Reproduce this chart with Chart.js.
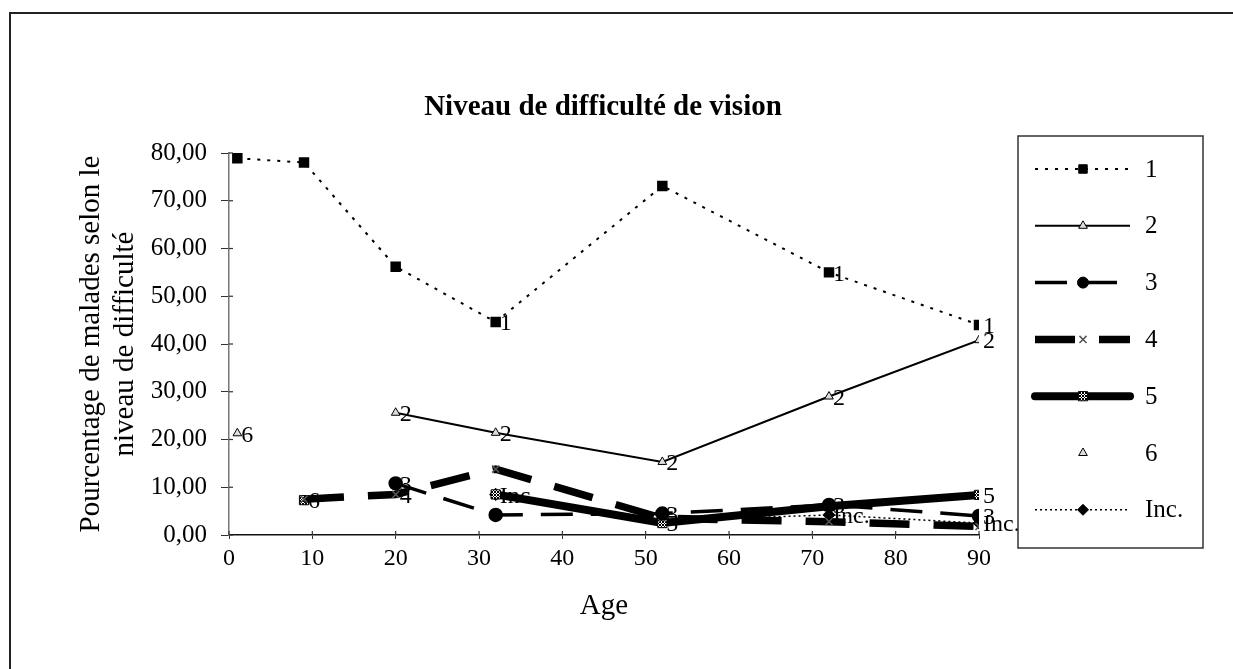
<!DOCTYPE html>
<html>
<head>
<meta charset="utf-8">
<script src="https://cdn.jsdelivr.net/npm/chart.js"></script>
<style>
  html, body { margin: 0; padding: 0; background: #fff; }
  #wrap { width: 1233px; height: 669px; }
</style>
</head>
<body>
<div id="wrap"><canvas id="chart" width="1233" height="669"></canvas></div>
<script>
// data
const ages = [1, 9, 20, 32, 52, 72, 90];
const seriesNames = ['1', '2', '3', '4', '5', '6', 'Inc.'];
const level1 = [78.9, 78.0, 56.2, 44.6, 73.1, 55.0, 44.0];
const level2 = [null, null, 25.6, 21.4, 15.3, 29.0, 40.8];
const level3 = [null, null, 10.8, 4.2, 4.5, 6.3, 4.0];
const level4 = [null, 7.5, 8.5, 13.8, 3.5, 2.8, 1.8];
const level5 = [null, 7.3, null, 8.5, 2.5, 6.0, 8.4];
const level6 = [21.3, 7.3, null, null, null, null, null];
const levelInc = [null, null, null, 8.5, 3.0, 4.2, 2.5];

// which points carry their series name as a label
const labels1 = [0, 0, 0, 1, 0, 1, 1];
const labels2 = [0, 0, 1, 1, 1, 1, 1];
const labels3 = [0, 0, 1, 0, 1, 1, 1];
const labels4 = [0, 0, 1, 0, 0, 0, 0];
const labels5 = [0, 0, 0, 0, 1, 0, 1];
const labels6 = [1, 1, 0, 0, 0, 0, 0];
const labelsInc = [0, 0, 0, 1, 0, 1, 1];

const FONT = '"Liberation Serif", "Times New Roman", serif';

// small cross-hatched fill for series 5 markers
const hatch = (() => {
    const c = document.createElement('canvas');
    c.width = 3; c.height = 3;
    const g = c.getContext('2d');
    g.fillStyle = '#fff'; g.fillRect(0, 0, 3, 3);
    g.fillStyle = '#000';
    g.fillRect(0, 0, 1, 1); g.fillRect(2, 0, 1, 1); g.fillRect(1, 1, 1, 1);
    g.fillRect(0, 2, 1, 1); g.fillRect(2, 2, 1, 1);
    return g.createPattern(c, 'repeat');
})();

const toPoints = (vals) => ages.map((a, i) => ({ x: a, y: vals[i] }));

const datasets = [
    { label: seriesNames[0], data: toPoints(level1), flags: labels1,
      borderColor: '#000', borderWidth: 2, borderDash: [3, 7], showLine: true,
      pointStyle: 'rect', pointRadius: 6, backgroundColor: '#000', pointBorderColor: '#000' },
    { label: seriesNames[1], data: toPoints(level2), flags: labels2,
      borderColor: '#000', borderWidth: 2, showLine: true,
      pointStyle: 'triangle', pointRadius: 5, backgroundColor: '#ddd', pointBorderColor: '#000', pointBorderWidth: 1 },
    { label: seriesNames[2], data: toPoints(level3), flags: labels3,
      borderColor: '#000', borderWidth: 3.5, borderDash: [32, 18], showLine: true,
      pointStyle: 'circle', pointRadius: 5.5, backgroundColor: '#000', pointBorderColor: '#000' },
    { label: seriesNames[3], data: toPoints(level4), flags: labels4,
      borderColor: '#000', borderWidth: 7.5, borderDash: [40, 24], showLine: true,
      pointStyle: 'crossRot', pointRadius: 5, backgroundColor: '#666', pointBorderColor: '#555', pointBorderWidth: 1.5 },
    { label: seriesNames[4], data: toPoints(level5), flags: labels5,
      borderColor: '#000', borderWidth: 8, borderCapStyle: 'round', showLine: true,
      pointStyle: 'rect', pointRadius: 6.5, backgroundColor: hatch, pointBorderColor: '#000', pointBorderWidth: 1 },
    { label: seriesNames[5], data: toPoints(level6), flags: labels6,
      showLine: false, borderColor: '#000',
      pointStyle: 'triangle', pointRadius: 5, backgroundColor: '#ddd', pointBorderColor: '#000', pointBorderWidth: 1 },
    { label: seriesNames[6], data: toPoints(levelInc), flags: labelsInc,
      borderColor: '#000', borderWidth: 1.5, borderDash: [2, 3], showLine: true,
      pointStyle: 'rectRot', pointRadius: 5.5, backgroundColor: '#000', pointBorderColor: '#000' },
];
datasets.forEach(d => { d.spanGaps = false; d.pointHoverRadius = d.pointRadius; });

// frame around the whole chart + title
const framePlugin = {
    id: 'frame',
    beforeDraw(chart) {
        const ctx = chart.ctx;
        ctx.save();
        ctx.fillStyle = '#fff';
        ctx.fillRect(0, 0, chart.width, chart.height);
        ctx.strokeStyle = '#222';
        ctx.lineWidth = 2;
        ctx.strokeRect(10, 13, chart.width + 20, chart.height + 20);
        ctx.fillStyle = '#000';
        ctx.font = 'bold 29px ' + FONT;
        ctx.textAlign = 'center';
        ctx.textBaseline = 'middle';
        ctx.fillText('Niveau de difficulté de vision', 603, 108);
        ctx.restore();
    }
};

// Excel style cross tick marks on the inside of the axes
const crossTicks = {
    id: 'crossTicks',
    afterDraw(chart) {
        const ctx = chart.ctx;
        const { x, y } = chart.scales;
        ctx.save();
        ctx.strokeStyle = '#333';
        ctx.lineWidth = 1.2;
        y.ticks.forEach(t => {
            const py = y.getPixelForValue(t.value);
            ctx.beginPath(); ctx.moveTo(x.left, py); ctx.lineTo(x.left + 4, py); ctx.stroke();
        });
        x.ticks.forEach(t => {
            const px = x.getPixelForValue(t.value);
            ctx.beginPath(); ctx.moveTo(px, y.bottom); ctx.lineTo(px, y.bottom - 4); ctx.stroke();
        });
        ctx.restore();
    }
};

// series name printed right of the chosen points
const pointLabels = {
    id: 'pointLabels',
    afterDatasetsDraw(chart) {
        const ctx = chart.ctx;
        ctx.save();
        ctx.fillStyle = '#000';
        ctx.font = '24px ' + FONT;
        ctx.textAlign = 'left';
        ctx.textBaseline = 'middle';
        chart.data.datasets.forEach((ds, i) => {
            const meta = chart.getDatasetMeta(i);
            meta.data.forEach((el, j) => {
                if (!ds.flags[j] || ds.data[j].y == null) return;
                ctx.fillText(ds.label, el.x + 4, el.y + 2);
            });
        });
        ctx.restore();
    }
};

// legend box on the right, line sample + marker like the original
const boxLegend = {
    id: 'boxLegend',
    afterDraw(chart) {
        const ctx = chart.ctx;
        ctx.save();
        ctx.strokeStyle = '#333';
        ctx.lineWidth = 1.5;
        ctx.strokeRect(1018, 136, 185, 412);
        chart.data.datasets.forEach((ds, i) => {
            const yy = 169 + i * 56.8;
            if (ds.showLine) {
                ctx.save();
                ctx.strokeStyle = ds.borderColor;
                ctx.lineWidth = ds.borderWidth;
                ctx.lineCap = ds.borderCapStyle || 'butt';
                ctx.setLineDash(ds.borderDash || []);
                ctx.beginPath(); ctx.moveTo(1035, yy); ctx.lineTo(1130, yy); ctx.stroke();
                ctx.restore();
            }
            ctx.fillStyle = ds.backgroundColor;
            ctx.strokeStyle = ds.pointBorderColor;
            ctx.lineWidth = ds.pointBorderWidth || 1;
            ctx.setLineDash([]);
            Chart.helpers.drawPoint(ctx, {
                pointStyle: ds.pointStyle, radius: ds.pointRadius, rotation: 0,
                borderWidth: ds.pointBorderWidth || 1
            }, 1083, yy);
            ctx.fillStyle = '#000';
            ctx.font = '25px ' + FONT;
            ctx.textAlign = 'left';
            ctx.textBaseline = 'middle';
            ctx.fillText(ds.label, 1145, yy + 1);
        });
        ctx.restore();
    }
};

new Chart(document.getElementById('chart'), {
    type: 'scatter',
    data: { datasets },
    options: {
        responsive: false,
        animation: false,
        layout: { padding: { left: 0, top: 153, right: 254, bottom: 34 } },
        plugins: {
            legend: { display: false },
            title: { display: false },
            tooltip: { enabled: false }
        },
        scales: {
            x: {
                type: 'linear',
                min: 0, max: 90,
                ticks: { stepSize: 10, color: '#000', padding: 5, font: { family: FONT, size: 24 } },
                grid: { drawOnChartArea: false, drawTicks: true, tickLength: 4, color: '#333' },
                border: { color: '#111', width: 1.5 },
                title: { display: true, text: 'Age', color: '#000',
                         font: { family: FONT, size: 29 }, padding: { top: 0, bottom: 11 } },
                afterFit(scale) { scale.height = 100; }
            },
            y: {
                min: 0, max: 80,
                ticks: { stepSize: 10, color: '#000', padding: 14,
                         font: { family: FONT, size: 25 },
                         callback: v => v.toFixed(2).replace('.', ',') },
                grid: { drawOnChartArea: false, drawTicks: true, tickLength: 8, color: '#333' },
                border: { color: '#777', width: 1.5 },
                title: { display: true, text: ['Pourcentage de malades selon le', 'niveau de difficulté'],
                         color: '#000', font: { family: FONT, size: 29, lineHeight: 1.15 },
                         padding: { top: 75, bottom: 0 } },
                afterFit(scale) { scale.width = 229; }
            }
        }
    },
    plugins: [framePlugin, crossTicks, pointLabels, boxLegend]
});
</script>
</body>
</html>
